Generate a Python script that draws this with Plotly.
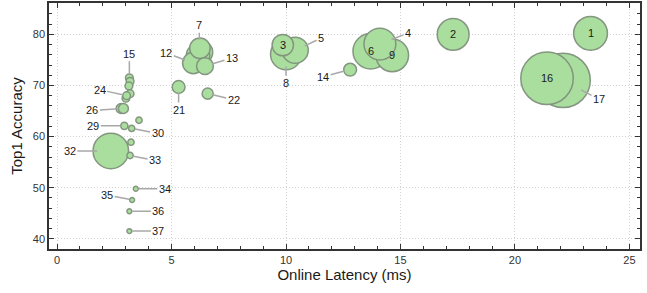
import plotly.graph_objects as go

# ---- data ----
model_ids = [1, 2, 3, 4, 5, 6, 7, 8, 9, 10, 11, 12, 13, 14, 15, 16, 17, 18, 19, 20,
             21, 22, 23, 24, 25, 26, 27, 29, 30, 31, 32, 33, 34, 35, 36, 37]
latency_ms = [23.3, 17.3, 9.86, 14.1, 10.4, 13.7, 6.24, 10.0, 14.64, 6.29, 6.16, 5.95, 6.46, 12.8,
              3.16, 21.4, 22.1, 3.19, 3.14, 3.19, 5.31, 6.58, 3.01, 3.04, 2.80, 2.90, 3.58,
              2.94, 3.26, 3.23, 2.35, 3.19, 3.44, 3.28, 3.16, 3.16]
top1_accuracy = [80.2, 80.0, 77.9, 78.1, 76.9, 76.7, 77.3, 76.1, 75.9, 76.5, 75.9, 74.4, 73.8, 73.1,
                 71.5, 71.4, 71.0, 70.8, 69.9, 68.4, 69.7, 68.4, 67.5, 68.0, 65.5, 65.5, 63.2,
                 62.1, 61.6, 58.9, 57.2, 56.3, 49.8, 47.6, 45.4, 41.5]
bubble_value = [28.6, 25.3, 11.4, 25.3, 17.1, 31.5, 10.5, 24.0, 26.7, 13.6, 13.6, 11.4, 7.1, 4.1,
                1.5, 68.8, 74.1, 1.5, 1.5, 1.5, 4.1, 3.1, 1.5, 1.5, 2.5, 2.5, 1.0,
                1.3, 1.0, 1.0, 31.5, 1.0, 0.6, 0.6, 0.6, 0.6]

inside_labels = [1, 2, 3, 6, 9, 16]
callout_labels = [4, 5, 7, 8, 12, 13, 14, 15, 17, 21, 22, 24, 26, 29, 30, 32, 33, 34, 35, 36, 37]

# ---- style / layout ----
SIZEREF = 0.05
LINE_W = 1.5
callout_offsets = {
    4: (28, -11), 5: (26, -12), 7: (-1, -23), 8: (0, 29), 12: (-27, -10), 13: (27, -8),
    14: (-27, 7), 15: (0, -24), 17: (36, 19), 21: (0, 23), 22: (26, 6), 24: (-27, -6),
    26: (-31, 2), 29: (-31, 0), 30: (26, 5), 32: (-41, 0), 33: (25, 5), 34: (29, 0),
    35: (-25, -5), 36: (29, 0), 37: (29, 0),
}

order = sorted(range(len(model_ids)), key=lambda i: -bubble_value[i])

fig = go.Figure()
fig.add_trace(go.Scatter(
    x=[latency_ms[i] for i in order],
    y=[top1_accuracy[i] for i in order],
    mode="markers",
    marker=dict(
        size=[bubble_value[i] for i in order],
        sizemode="area",
        sizeref=SIZEREF,
        color="rgb(170,222,158)",
        line=dict(color="rgba(128,145,124,0.95)", width=LINE_W),
        opacity=1,
    ),
    hoverinfo="skip",
    showlegend=False,
))

font_family = "Liberation Sans, Arial, sans-serif"
annotations = []
for i, mid in enumerate(model_ids):
    r = (bubble_value[i] / SIZEREF) ** 0.5 / 2 + LINE_W / 2
    if mid in inside_labels:
        annotations.append(dict(x=latency_ms[i], y=top1_accuracy[i], text=str(mid),
                                showarrow=False, font=dict(size=11, color="#1a1a1a", family=font_family)))
    elif mid in callout_labels:
        dx, dy = callout_offsets[mid]
        annotations.append(dict(x=latency_ms[i], y=top1_accuracy[i], text=str(mid),
                                showarrow=True, arrowhead=0, arrowwidth=1.5,
                                arrowcolor="#a8a8a8", standoff=r + 0.5,
                                ax=dx, ay=dy,
                                font=dict(size=11, color="#1a1a1a", family=font_family)))

axis_common = dict(
    showline=True, linecolor="#333333", linewidth=1.5, mirror="allticks",
    ticks="inside", ticklen=5, tickwidth=1, tickcolor="#333333",
    showgrid=True, gridcolor="#d2d2d2", griddash="1px,2px", gridwidth=1,
    zeroline=False, automargin=False,
    tickfont=dict(size=11, color="#333333", family=font_family),
)

fig.update_layout(
    width=647, height=293,
    margin=dict(l=49, r=7, t=3, b=44),
    paper_bgcolor="white", plot_bgcolor="white",
    font=dict(family=font_family),
    xaxis=dict(range=[-0.35, 25.46], dtick=5, tick0=0,
               minor=dict(dtick=1, ticks="inside", ticklen=3, tickcolor="#333333", showgrid=False),
               title=dict(text="Online Latency (ms)", font=dict(size=15, color="#1a1a1a"), standoff=5),
               **axis_common),
    yaxis=dict(range=[38.0, 86.14], dtick=10, tick0=0,
               minor=dict(dtick=2, ticks="inside", ticklen=3, tickcolor="#333333", showgrid=False),
               title=dict(text="Top1 Accuracy", font=dict(size=15, color="#1a1a1a"), standoff=7),
               **axis_common),
    annotations=annotations,
)

fig.write_html("out.html", config={"displayModeBar": False},
               post_script="document.body.style.margin='0';document.body.style.padding='0';")
